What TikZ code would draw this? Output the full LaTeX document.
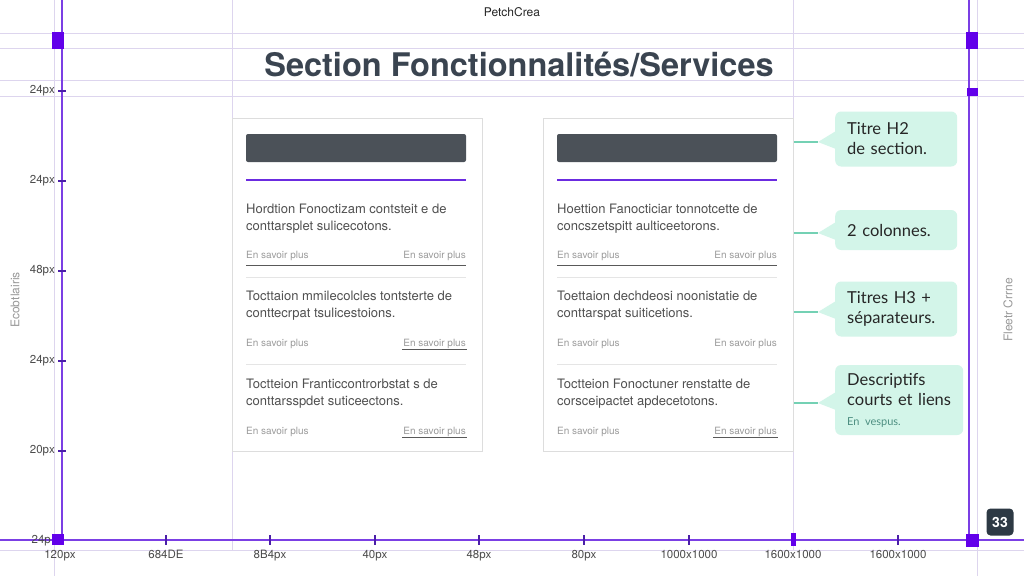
\documentclass[tikz,border=0pt]{standalone}
\usepackage{fontspec}
\setmainfont{TeX Gyre Heros}
\newfontfamily\callfont{Lato}
\usetikzlibrary{calc}
\definecolor{guide}{HTML}{DDD5EE}
\definecolor{axisc}{HTML}{7B3FE4}
\definecolor{tickc}{HTML}{4B1FA8}
\definecolor{sq}{HTML}{6200EA}
\definecolor{ink}{HTML}{3A4450}
\definecolor{barc}{HTML}{4B5158}
\definecolor{sepc}{HTML}{6B2BE0}
\definecolor{mint}{HTML}{D3F5E9}
\definecolor{leadc}{HTML}{74D1B4}
\definecolor{bodyc}{HTML}{505050}
\definecolor{lnk}{HTML}{9A9A9A}
\definecolor{cardline}{HTML}{DDDDDD}
\definecolor{badgec}{HTML}{2D3944}
\definecolor{vesp}{HTML}{4E8F82}
\tikzset{
  guideline/.style={draw=guide, line width=0.8pt},
  axisline/.style={draw=axisc, line width=1.6pt},
  tickmark/.style={draw=tickc, line width=1.8pt},
  sqmark/.style={fill=sq, draw=none},
  lab/.style={font=\fontsize{11.5}{13}\selectfont, text=black!70, inner sep=1pt},
  cardbox/.style={draw=cardline, line width=0.8pt, fill=white},
  para/.style={anchor=north west, align=left, inner sep=0pt, font=\fontsize{13}{17}\selectfont, text=bodyc},
  linkl/.style={font=\fontsize{10}{11}\selectfont, text=lnk, inner sep=1pt},
  ulink/.style={draw=black!65, line width=0.9pt},
  lightsep/.style={draw=black!10, line width=0.8pt},
  callout/.style={fill=mint, rounded corners=6pt, anchor=west, align=left,
    font=\callfont\fontsize{16.5}{20}\selectfont, text=black!85, inner xsep=12pt, inner ysep=6pt},
  leaderline/.style={draw=leadc, line width=1.2pt},
  sidetext/.style={font=\fontsize{12}{14}\selectfont, text=black!40, rotate=90},
}
% #1 prefix, #2 card left x, #3 #4 #5 paragraphs
\newcommand\mycard[5]{%
  \node[cardbox, minimum width=250pt, minimum height=333pt, anchor=north west, inner sep=0pt] (#1card) at (#2,118) {};
  \fill[barc, rounded corners=2pt] (#2+14,134) rectangle (#2+234,162);
  \coordinate (#1sa) at (#2+14,180);
  \coordinate (#1sb) at (#2+234,180);
  \draw[draw=sepc, line width=2.6pt] (#1sa) -- (#1sb);
  \node[para] (#1p1) at (#2+14,204) {#3};
  \node[linkl, anchor=west] (#1la) at (#2+13,256) {En savoir plus};
  \node[linkl, anchor=east] (#1lb) at (#2+235,256) {En savoir plus};
  \draw[lightsep] (#2+14,277) -- (#2+234,277);
  \node[para] (#1p2) at (#2+14,291) {#4};
  \node[linkl, anchor=west] (#1lc) at (#2+13,344) {En savoir plus};
  \node[linkl, anchor=east] (#1ld) at (#2+235,344) {En savoir plus};
  \draw[lightsep] (#2+14,364) -- (#2+234,364);
  \node[para] (#1p3) at (#2+14,379) {#5};
  \node[linkl, anchor=west] (#1le) at (#2+13,432) {En savoir plus};
  \node[linkl, anchor=east] (#1lf) at (#2+235,432) {En savoir plus};
  \draw[ulink] (#2+14,265) -- (#2+234,265);
  \draw[ulink] (#1lf.south west) -- (#1lf.south east);
}
\begin{document}
\begin{tikzpicture}[x=1pt,y=-1pt]
\useasboundingbox (0,0) rectangle (1024,576);
\fill[white] (0,0) rectangle (1024,576);
% guides
\foreach \yy in {33,48,80,96,550} \draw[guideline] (0,\yy) -- (1024,\yy);
\draw[guideline] (54,0) -- (54,576);
\draw[guideline] (232,0) -- (232,550);
\draw[guideline] (793,0) -- (793,550);
\draw[guideline] (977,0) -- (977,576);
% header
\node[font=\fontsize{12}{14}\selectfont, text=black!85] (brand) at (512,12) {PetchCrea};
\node[font=\bfseries\fontsize{32.5}{36}\selectfont, text=ink, anchor=base] (title) at (519,76) {Section Fonctionnalités/Services};
% cards
\mycard{L}{232}{Hordtion Fonoctizam contsteit e de\\conttarsplet sulicecotons.}{Tocttaion mmilecolcles tontsterte de\\conttecrpat tsulicestoions.}{Toctteion Franticcontrorbstat s de\\conttarsspdet suticeectons.}
\draw[ulink] (Lld.south west) -- (Lld.south east);
\mycard{R}{543}{Hoettion Fanocticiar tonnotcette de\\concszetspitt aulticeetorons.}{Toettaion dechdeosi noonistatie de\\conttarspat suiticetions.}{Toctteion Fonoctuner renstatte de\\corsceipactet apdecetotons.}
% axes
\draw[axisline] (62,0) -- (62,540);
\draw[axisline] (969,0) -- (969,540);
\draw[axisline] (0,540) -- (1024,540);
\foreach \yy/\tt in {91/24px,181/24px,271/48px,361/24px,451/20px}{
  \draw[tickmark] (58,\yy) -- (66,\yy);
  \node[lab, anchor=east] at (56,\yy) {\tt};
}
\node[lab, anchor=east] (lab0) at (52,541) {24p};
\foreach \xx in {166,270,375,479,584,689,898} \draw[tickmark] (\xx,535) -- (\xx,545);
\foreach \xx/\tt in {60/120px,166/684DE,270/8B4px,375/40px,479/48px,584/80px,689/1000x1000,793/1600x1000,898/1600x1000}
  \node[lab, anchor=north] at (\xx,549) {\tt};
% squares
\fill[sqmark] (52,32) rectangle (64,49);
\fill[sqmark] (966,32) rectangle (978,49);
\fill[sqmark] (967,88) rectangle (978,96);
\fill[sqmark] (52,534) rectangle (64,545);
\fill[sqmark] (966,534) rectangle (979,547);
\fill[sqmark] (791,533) rectangle (796,546);
% side texts
\node[sidetext] (lside) at (15,300) {Ecobtlairis};
\node[sidetext] (rside) at (1008,310) {Fleetr Crrne};
% badge
\node[fill=badgec, rounded corners=4pt, text=white, font=\bfseries\fontsize{14}{16}\selectfont, minimum width=27pt, minimum height=27pt, inner sep=0pt] (badge) at (1000,522) {33};
% callouts
\node[callout, text width=98pt, minimum height=55pt] (c1) at (835,139) {Titre H2\\de section.};
\node[callout, text width=98pt, minimum height=40pt] (c2) at (835,230) {2 colonnes.};
\node[callout, text width=98pt, minimum height=55pt] (c3) at (835,309) {Titres H3 +\\séparateurs.};
\node[callout, text width=104pt, minimum height=70pt] (c4) at (835,400) {Descriptifs\\courts et liens\\{\fontsize{11}{14}\selectfont\color{vesp}En vespus.}};
\foreach \c in {c1,c2,c3,c4}{
  \coordinate (\c tip) at ($(\c.west)+(-17,3)$);
  \fill[mint] ($(\c.west)+(1,-8)$) -- (\c tip) -- ($(\c.west)+(1,10)$) -- cycle;
  \draw[leaderline] (Rcard.east |- \c tip) -- (\c tip);
}
\end{tikzpicture}
\end{document}
